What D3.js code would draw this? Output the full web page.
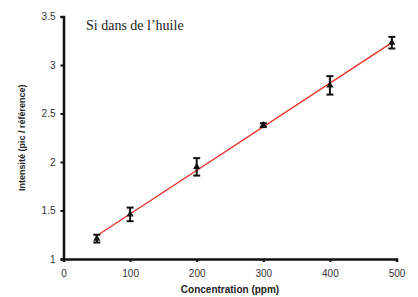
<!DOCTYPE html>
<html>
<head>
<meta charset="utf-8">
<script src="https://cdn.jsdelivr.net/npm/d3@7"></script>
<style>
  body { margin: 0; background: #fff; }
  .tick text { font-family: "Liberation Sans", Arial, sans-serif; font-size: 10px; fill: #333; }
</style>
</head>
<body>
<div id="chart"></div>
<script>
// data
var concentrations = [50, 100, 200, 300, 400, 493];
var intensities = [1.21, 1.46, 1.95, 2.38, 2.79, 3.23];
var errors = [0.04, 0.07, 0.09, 0.02, 0.095, 0.06];
var fitX = [50, 493];
var fitY = [1.24, 3.23];
var xTicks = [0, 100, 200, 300, 400, 500];
var yTicks = [1, 1.5, 2, 2.5, 3, 3.5];

var chart_width = 418;
var chart_height = 297;
var margin = {left: 63.5, right: 21.5, top: 16.5, bottom: 38};

var svg = d3.select('#chart')
            .append('svg')
            .attr('width', chart_width)
            .attr('height', chart_height);

var x = d3.scaleLinear().domain([0, 500]).range([margin.left, chart_width - margin.right]);
var y = d3.scaleLinear().domain([1, 3.5]).range([chart_height - margin.bottom, margin.top]);

// axes
var xAxis = svg.append('g')
    .attr('transform', 'translate(0,' + y(1) + ')')
    .call(d3.axisBottom(x).tickValues(xTicks).tickSize(3).tickPadding(8).tickFormat(d3.format('d')));
var yAxis = svg.append('g')
    .attr('transform', 'translate(' + x(0) + ',0)')
    .call(d3.axisLeft(y).tickValues(yTicks).tickSize(3).tickPadding(5).tickFormat(function(d){ return String(d); }));

[xAxis, yAxis].forEach(function(a){
    a.select('.domain').attr('stroke', '#111').attr('stroke-width', 2.5);
    a.selectAll('.tick line').attr('stroke', '#111').attr('stroke-width', 2);
});

// fit line
svg.append('line')
   .attr('x1', x(fitX[0])).attr('y1', y(fitY[0]))
   .attr('x2', x(fitX[1])).attr('y2', y(fitY[1]))
   .attr('stroke', '#e8322c')
   .attr('stroke-width', 1.4);

// error bars
var eb = svg.selectAll('.eb')
   .data(concentrations)
   .enter()
   .append('g')
   .attr('class', 'eb')
   .attr('stroke', '#111')
   .attr('stroke-width', 2);
eb.append('line')
  .attr('x1', function(d){ return x(d); })
  .attr('x2', function(d){ return x(d); })
  .attr('y1', function(d, i){ return y(intensities[i] - errors[i]); })
  .attr('y2', function(d, i){ return y(intensities[i] + errors[i]); });
[-1, 1].forEach(function(s){
    eb.append('line')
      .attr('x1', function(d){ return x(d) - 3.5; })
      .attr('x2', function(d){ return x(d) + 3.5; })
      .attr('y1', function(d, i){ return y(intensities[i] + s * errors[i]); })
      .attr('y2', function(d, i){ return y(intensities[i] + s * errors[i]); });
});

// markers
svg.selectAll('.pt')
   .data(concentrations)
   .enter()
   .append('path')
   .attr('class', 'pt')
   .attr('d', d3.symbol().type(d3.symbolTriangle).size(22))
   .attr('transform', function(d, i){ return 'translate(' + x(d) + ',' + y(intensities[i]) + ')'; })
   .attr('fill', '#111');

// titles
svg.append('text')
   .attr('x', (x(0) + x(500)) / 2)
   .attr('y', 293)
   .attr('text-anchor', 'middle')
   .style('font-family', '"Liberation Sans", Arial, sans-serif')
   .style('font-size', '10px')
   .style('font-weight', 'bold')
   .style('fill', '#222')
   .text('Concentration (ppm)');

svg.append('text')
   .attr('transform', 'translate(25,' + (y(1) + y(3.5)) / 2 + ') rotate(-90)')
   .attr('text-anchor', 'middle')
   .style('font-family', '"Liberation Sans", Arial, sans-serif')
   .style('font-size', '9px')
   .style('font-weight', 'bold')
   .style('fill', '#222')
   .text('Intensité (pic / référence)');

svg.append('text')
   .attr('x', 86)
   .attr('y', 30)
   .style('font-family', '"Liberation Serif", "Times New Roman", serif')
   .style('font-size', '14px')
   .style('fill', '#222')
   .text('Si dans de l\u2019huile');
</script>
</body>
</html>
